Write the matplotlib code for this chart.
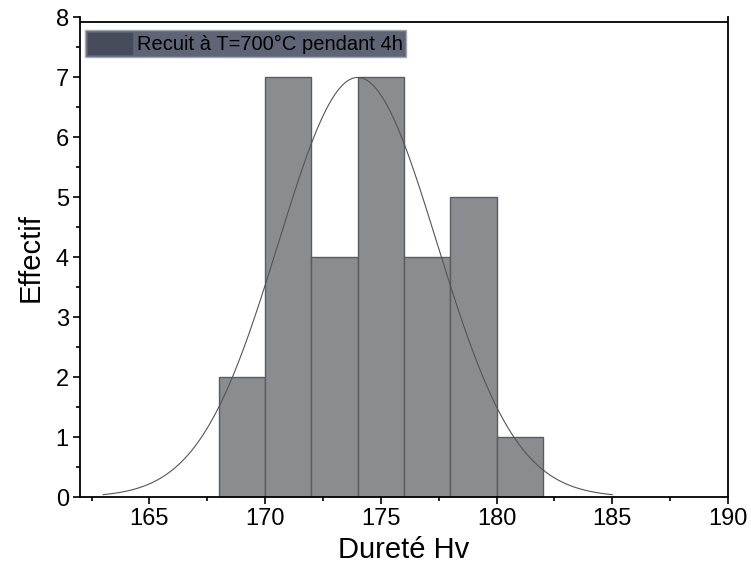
import numpy as np
import matplotlib
matplotlib.use("Agg")
import matplotlib.pyplot as plt
from matplotlib.ticker import MultipleLocator

# histogram of hardness values (bin edges and counts)
bin_edges = [168, 170, 172, 174, 176, 178, 180, 182]
counts = [2, 7, 4, 7, 4, 5, 1]

# normal fit curve parameters
fit_mean = 174.0
fit_sd = 3.42
fit_start, fit_end = 163, 185

plt.rcParams['font.family'] = ['Liberation Sans', 'DejaVu Sans']

fig = plt.figure(figsize=(7.51, 5.69), dpi=100)
ax = fig.add_axes([0.1065, 0.1265, 0.8629, 0.8429])

widths = np.diff(bin_edges)
ax.bar(bin_edges[:-1], counts, width=widths, align='edge', color='#8a8c90',
       edgecolor='#5a5c62', linewidth=1.0, label='Recuit à T=700°C pendant 4h')

# normal curve scaled to counts
n_total = sum(counts)
bw = widths[0]
xs = np.linspace(fit_start, fit_end, 400)
ys = n_total * bw / (fit_sd * np.sqrt(2 * np.pi)) * np.exp(-0.5 * ((xs - fit_mean) / fit_sd) ** 2)
ax.plot(xs, ys, color='#555555', linewidth=0.8)

ax.set_xlim(162, 190)
ax.set_ylim(0, 8)
ax.xaxis.set_major_locator(MultipleLocator(5))
ax.xaxis.set_minor_locator(MultipleLocator(2.5))
ax.yaxis.set_major_locator(MultipleLocator(1))
ax.yaxis.set_minor_locator(MultipleLocator(0.5))
ax.tick_params(which='major', direction='out', length=5, width=1.2, labelsize=17, pad=3, top=False, right=False)
ax.tick_params(which='minor', direction='out', length=3, width=1.2, top=False, right=False)
for s in ax.spines.values():
    s.set_linewidth(1.3)
# Origin style: top frame line sits just under the last tick
ax.spines['top'].set_visible(False)
ax.axhline(7.92, color='black', linewidth=1.3)

ax.set_xlabel('Dureté Hv', fontsize=21, labelpad=4)
ax.set_ylabel('Effectif', fontsize=21, labelpad=8)

leg = ax.legend(loc='upper left', bbox_to_anchor=(0.0077, 0.9737), borderaxespad=0,
                frameon=True, fancybox=False, handlelength=2.2, handleheight=1.2,
                handletextpad=0.25, borderpad=0.15, prop={'size': 14.5})
leg.get_frame().set_facecolor('#5f6577')
leg.get_frame().set_edgecolor('#a4a8b0')
leg.get_frame().set_alpha(1)
leg.legend_handles[0].set_facecolor('#454b5b')
leg.legend_handles[0].set_edgecolor('#454b5b')

fig.savefig('out.png', dpi=100)
